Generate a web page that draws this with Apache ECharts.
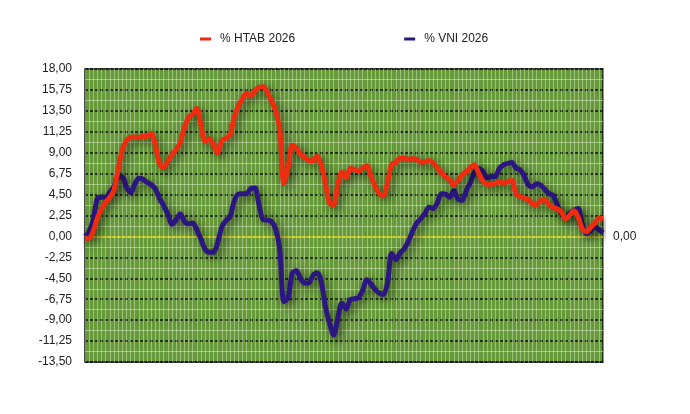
<!DOCTYPE html>
<html>
<head>
<meta charset="utf-8">
<script src="https://cdn.jsdelivr.net/npm/echarts@6/dist/echarts.min.js"></script>
<style>
  html, body { margin: 0; padding: 0; background: #fff; }
  #chart { width: 690px; height: 414px; }
</style>
</head>
<body>
<div id="chart"></div>
<script>
// HTAB vs VNI, % change 2026
var htab = [
  -0.2, -0.2, 0.6, 2.0, 2.9, 3.7, 4.2, 5.0, 7.2, 9.3,
  10.3, 10.65, 10.7, 10.6, 10.8, 10.75, 11.1, 9.8, 7.8, 7.4,
  8.1, 8.8, 9.35, 10.1, 11.7, 12.8, 13.15, 13.75, 11.9, 10.2,
  10.5, 9.8, 9.0, 10.3, 10.55, 10.9, 12.8, 14.0, 14.8, 15.4,
  15.1, 15.65, 16.0, 16.1, 15.5, 14.6, 13.5, 11.5, 5.7, 7.4,
  9.8, 9.5, 8.85, 8.5, 8.15, 8.15, 8.65, 7.7, 5.75, 3.6,
  3.4, 5.6, 6.9, 6.3, 7.3, 7.2, 7.0, 7.35, 7.6, 6.5,
  5.4, 4.6, 4.35, 5.8, 7.75, 7.95, 8.4, 8.4, 8.3, 8.35,
  8.3, 8.0, 8.0, 8.15, 7.9, 7.4, 6.85, 6.4, 6.1, 5.55,
  6.0, 6.6, 6.95, 7.4, 7.7, 6.8, 6.0, 5.6, 5.6, 5.7,
  5.9, 5.7, 5.9, 6.0, 4.6, 4.3, 4.1, 3.95, 3.5, 3.4,
  3.9, 3.9, 3.4, 3.1, 2.95, 2.6, 1.9, 2.3, 2.75, 2.1,
  0.85, 0.5, 0.95, 1.4, 1.95, 1.95
];
var vni = [
  0.0, 0.5, 1.8, 4.1, 4.2, 4.2, 4.75, 5.35, 6.4, 6.4,
  5.3, 4.7, 5.6, 6.25, 6.15, 5.8, 5.55, 5.1, 4.1, 3.3,
  2.4, 1.3, 1.8, 2.4, 1.6, 1.35, 1.45, 0.7, -0.3, -1.4,
  -1.7, -1.7, -0.7, 1.0, 1.7, 2.1, 3.8, 4.55, 4.6, 4.6,
  5.15, 5.2, 3.4, 1.8, 1.75, 1.6, 0.8, -1.4, -7.0, -6.6,
  -4.0, -3.7, -4.5, -5.0, -5.0, -4.2, -3.9, -4.8, -7.5, -9.3,
  -10.6, -8.8, -7.15, -7.8, -6.8, -6.7, -6.6, -5.8, -4.65, -5.1,
  -5.7, -6.1, -6.25, -5.0, -1.8, -2.5, -1.8, -1.35, -0.55, 0.5,
  1.4, 1.9, 2.45, 3.15, 3.0, 3.6, 4.6, 4.55, 4.2, 4.9,
  4.05, 3.9, 4.9, 5.8, 6.9, 7.3, 7.0, 6.3, 6.45, 6.45,
  7.3, 7.7, 7.85, 7.95, 7.35, 7.15, 6.5, 5.5, 5.35, 5.65,
  5.5, 5.05, 4.6, 4.4, 3.35, 2.45, 2.05, 2.5, 2.8, 3.0,
  1.3, 0.35, 0.6, 1.05, 0.75, 0.4
];
var seriesNames = ['% HTAB 2026', '% VNI 2026'];
var yMin = -13.5, yMax = 18, yStep = 2.25;

var days = htab.map(function (v, i) { return i + 1; });

function comma(v) {
  return v.toFixed(2).replace('.', ',');
}

var myChart = echarts.init(document.getElementById('chart'));
var lineShadow = {
  shadowColor: 'rgba(0,0,0,0.6)',
  shadowBlur: 10,
  shadowOffsetX: 3,
  shadowOffsetY: 3
};

var option = {
  animation: false,
  textStyle: { fontFamily: 'Liberation Sans, Arial, sans-serif' },
  legend: {
    data: seriesNames,
    left: 195,
    top: 28,
    icon: 'rect',
    itemWidth: 11,
    itemHeight: 3,
    itemGap: 109,
    textStyle: { fontSize: 12, color: '#222', padding: [0, 0, 0, 4] }
  },
  grid: {
    left: 85,
    right: 87,
    top: 69,
    bottom: 52,
    show: true,
    backgroundColor: '#66993a',
    borderColor: '#111',
    borderWidth: 1.5
  },
  xAxis: {
    type: 'category',
    data: days,
    boundaryGap: false,
    axisLine: { show: false },
    axisTick: { show: false },
    axisLabel: { show: false },
    splitLine: {
      show: true,
      interval: 0,
      lineStyle: { color: 'rgba(225,240,205,0.45)', width: 1 }
    }
  },
  yAxis: {
    type: 'value',
    min: yMin,
    max: yMax,
    interval: yStep,
    axisLine: { show: false },
    axisTick: { show: false },
    axisLabel: {
      margin: 13,
      fontSize: 12,
      color: '#222',
      formatter: comma
    },
    splitLine: {
      lineStyle: { color: '#111', width: 1.5, type: [3, 2] }
    },
    minorTick: { show: false, splitNumber: 2 },
    minorSplitLine: {
      show: true,
      lineStyle: { color: 'rgba(225,240,205,0.5)', width: 1 }
    }
  },
  series: [
    {
      name: seriesNames[1],
      type: 'line',
      data: vni,
      smooth: 0.3,
      symbol: 'none',
      z: 3,
      lineStyle: Object.assign({ color: '#2b1682', width: 5 }, lineShadow),
      itemStyle: { color: '#2b1682' }
    },
    {
      name: seriesNames[0],
      type: 'line',
      data: htab,
      smooth: 0.3,
      symbol: 'none',
      z: 4,
      lineStyle: Object.assign({ color: '#ee2c10', width: 5 }, lineShadow),
      itemStyle: { color: '#ee2c10' },
      markLine: {
        silent: true,
        symbol: 'none',
        z: 2,
        lineStyle: { color: '#f2e832', width: 1.5, type: 'solid', shadowBlur: 0 },
        label: {
          position: 'end',
          distance: 10,
          color: '#222',
          fontSize: 12,
          formatter: function (p) { return comma(p.value); }
        },
        data: [{ yAxis: 0 }]
      }
    }
  ]
};
myChart.setOption(option);
</script>
</body>
</html>
